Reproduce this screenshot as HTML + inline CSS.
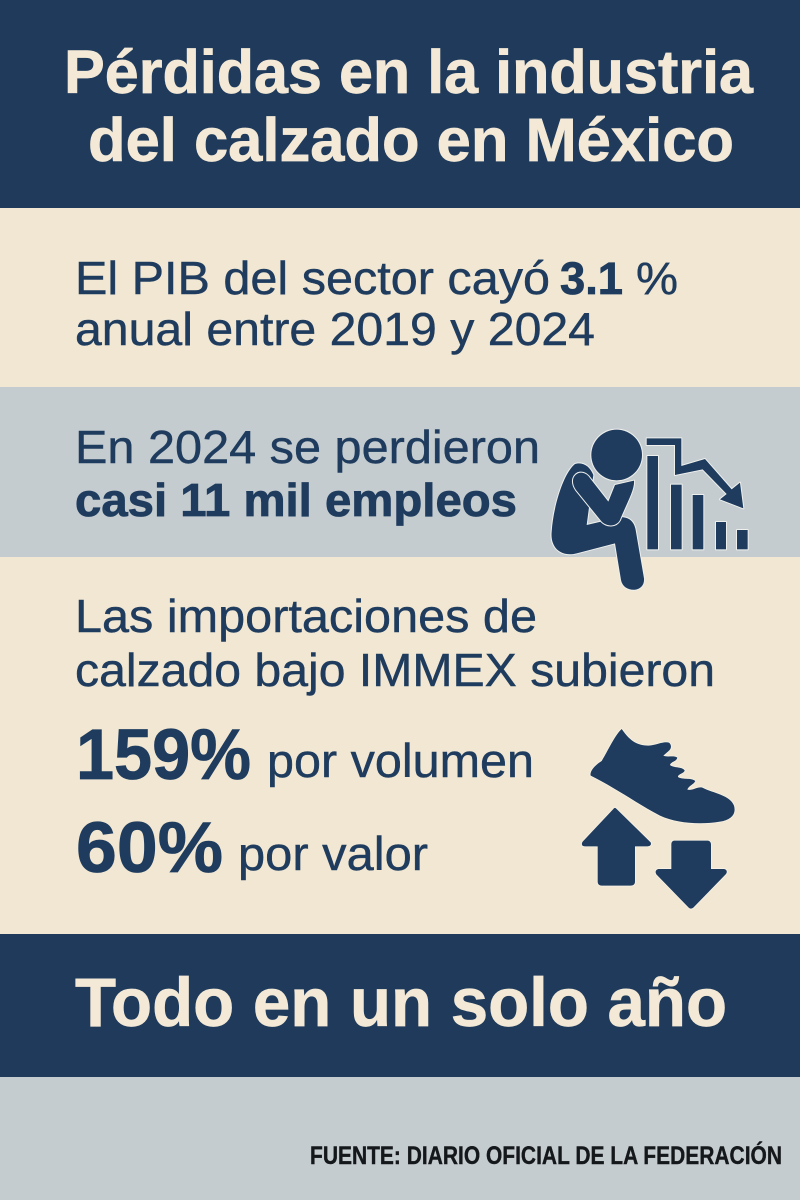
<!DOCTYPE html>
<html lang="es">
<head>
<meta charset="utf-8">
<title>Pérdidas en la industria del calzado en México</title>
<style>
html,body{margin:0;padding:0;background:#f1e7d2}
svg{display:block}
text{font-family:"Liberation Sans",sans-serif}
.cream{fill:#f3e9d6;stroke:#f3e9d6;stroke-width:.7}
.navy{fill:#1f3c5e;stroke:#1f3c5e;stroke-width:.45}
.b{font-weight:700}
.navy.b{stroke-width:.8}
.icon{paint-order:stroke}
</style>
</head>
<body>
<svg width="800" height="1200" viewBox="0 0 800 1200" xmlns="http://www.w3.org/2000/svg">
  <rect x="0" y="0" width="800" height="208" fill="#1f3a5b"/>
  <rect x="0" y="208" width="800" height="179" fill="#f1e7d2"/>
  <rect x="0" y="387" width="800" height="170" fill="#c5ccd0"/>
  <rect x="0" y="557" width="800" height="377" fill="#f1e7d2"/>
  <rect x="0" y="934" width="800" height="143" fill="#1f3a5b"/>
  <rect x="0" y="1077" width="800" height="123" fill="#c5ccd0"/>

  <g>
    <text class="cream b" x="64" y="93" font-size="61" textLength="689" lengthAdjust="spacingAndGlyphs">Pérdidas en la industria</text>
    <text class="cream b" x="88" y="161" font-size="61" textLength="646" lengthAdjust="spacingAndGlyphs">del calzado en México</text>
  </g>

  <g>
    <text class="navy" x="75" y="294" font-size="46" textLength="475" lengthAdjust="spacingAndGlyphs">El PIB del sector cayó</text>
    <text class="navy b" x="560" y="294" font-size="45" textLength="63" lengthAdjust="spacingAndGlyphs">3.1</text>
    <text class="navy" x="636" y="294" font-size="45" textLength="42" lengthAdjust="spacingAndGlyphs">%</text>
    <text class="navy" x="75" y="345" font-size="46" textLength="520" lengthAdjust="spacingAndGlyphs">anual entre 2019 y 2024</text>
  </g>

  <g>
    <text class="navy" x="75" y="463" font-size="46" textLength="465" lengthAdjust="spacingAndGlyphs">En 2024 se perdieron</text>
    <text class="navy b" x="75" y="516" font-size="46" textLength="442" lengthAdjust="spacingAndGlyphs">casi 11 mil empleos</text>
  </g>

  <g transform="translate(540 410) scale(.33333)">
    <g class="icon" fill="#1f3c5e" stroke="#eef0ee" stroke-width="6" stroke-linejoin="round">
      <rect x="322" y="138" width="32" height="280"/>
      <rect x="393" y="224" width="32" height="194"/>
      <rect x="458" y="255" width="32" height="163"/>
      <rect x="528" y="336" width="30" height="82"/>
      <rect x="591" y="360" width="32" height="58"/>
      <path d="M320 85H424V168L495 147L575 238L600 218L610 295L540 268L560 252L488 178L405 195V105H320Z"/>
      <path d="M105 162C130 155 150 170 160 195L140 345L225 325C260 315 282 330 287 360L312 505C316 550 250 550 243 510L225 400L110 430C65 442 30 415 35 365C40 290 70 190 105 162Z"/>
      <path d="M100 205C108 185 130 182 145 198L205 275L225 225L282 212C285 240 255 290 240 330C228 352 200 350 185 335L108 240C100 228 97 216 100 205Z"/>
      <circle cx="230" cy="135" r="76"/>
    </g>
  </g>

  <g>
    <text class="navy" x="75" y="632" font-size="46" textLength="462" lengthAdjust="spacingAndGlyphs">Las importaciones de</text>
    <text class="navy" x="75" y="686" font-size="46" textLength="640" lengthAdjust="spacingAndGlyphs">calzado bajo IMMEX subieron</text>
    <text class="navy b" x="76" y="779" font-size="71" textLength="175" lengthAdjust="spacingAndGlyphs">159%</text>
    <text class="navy" x="267" y="777" font-size="47" textLength="267" lengthAdjust="spacingAndGlyphs">por volumen</text>
    <text class="navy b" x="76" y="872" font-size="71" textLength="147" lengthAdjust="spacingAndGlyphs">60%</text>
    <text class="navy" x="238" y="870" font-size="47" textLength="190" lengthAdjust="spacingAndGlyphs">por valor</text>
  </g>

  <g transform="translate(570 715) scale(.33333)">
    <g class="icon" fill="#1f3c5e" stroke="#f8f2e6" stroke-width="5" stroke-linejoin="round">
      <path d="M155 42C175 70 195 92 235 92C262 90 280 78 297 83C306 90 304 102 296 108L280 122C292 128 312 120 322 128C320 140 302 140 300 150C312 160 335 154 344 166C342 176 324 176 324 186C337 195 362 187 376 198C372 208 356 212 352 224C368 228 382 214 397 218C430 235 480 240 492 272C500 300 480 315 450 320C390 330 320 325 270 302C200 265 130 215 62 182C58 170 75 150 95 138C115 105 135 60 155 42Z"/>
      <path d="M138 280L242 382C245 390 240 394 232 394H195V500C195 508 190 512 182 512H95C88 512 83 508 83 500V394H45C36 394 33 388 38 380L130 282C133 278 135 278 138 280Z"/>
      <path d="M314 377H412C418 377 423 381 423 388V462H460C470 462 473 470 468 477L370 578C365 582 360 582 356 578L259 478C254 470 258 462 268 462H304V388C304 381 308 377 314 377Z"/>
    </g>
  </g>

  <text class="cream b" x="75" y="1026" font-size="69" textLength="652" lengthAdjust="spacingAndGlyphs">Todo en un solo año</text>
  <text class="b" x="310" y="1164" font-size="25" fill="#15181b" stroke="#15181b" stroke-width=".4" textLength="472" lengthAdjust="spacingAndGlyphs">FUENTE: DIARIO OFICIAL DE LA FEDERACIÓN</text>
</svg>
</body>
</html>
